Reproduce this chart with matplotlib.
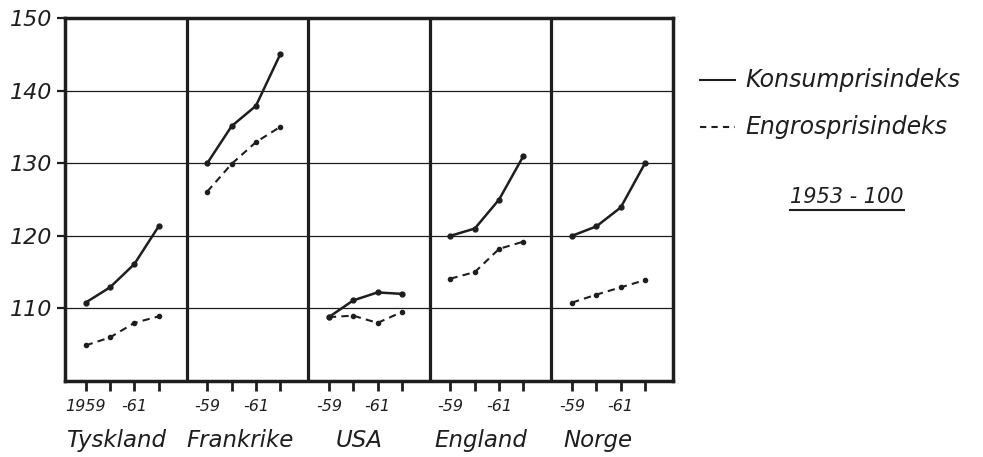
import matplotlib
matplotlib.use("Agg")
import matplotlib.pyplot as plt
from matplotlib.lines import Line2D

countries = ["Tyskland", "Frankrike", "USA", "England", "Norge"]
years = [1959, 1960, 1961, 1962]
konsum = [
    [110.8, 112.9, 116.1, 121.3],
    [130.0, 135.1, 137.9, 145.0],
    [108.8, 111.1, 112.2, 112.0],
    [120.0, 121.0, 125.0, 131.0],
    [120.0, 121.3, 123.9, 130.0],
]
engros = [
    [104.9, 106.0, 108.0, 108.9],
    [126.1, 129.9, 132.9, 135.0],
    [108.8, 109.0, 108.0, 109.5],
    [114.1, 115.0, 118.2, 119.2],
    [110.8, 111.9, 112.9, 113.9],
]
first_labels = ["1959", "", "-61", ""]
other_labels = ["-59", "", "-61", ""]
y_ticks = [110, 120, 130, 140, 150]

ink = "#1e1e1e"
plt.rcParams["font.family"] = "DejaVu Sans"
plt.rcParams["font.style"] = "italic"

fig = plt.figure(figsize=(9.83, 4.57), dpi=100)
ax = fig.add_axes([65 / 983, 1 - 381 / 457, 608 / 983, 363 / 457])

panel_w = 5
offset = 0.85
name_x = [2.1, 2.2, 2.1, 2.1, 1.9]
xticks = []
xlabels = []
for p, name in enumerate(countries):
    xs = [p * panel_w + offset + i for i in range(len(years))]
    ax.plot(xs, konsum[p], color=ink, lw=1.8, marker="o", ms=3.5)
    ax.plot(xs, engros[p], color=ink, lw=1.5, ls=(0, (3.5, 2.5)), marker="o", ms=3)
    xticks += xs
    xlabels += first_labels if p == 0 else other_labels
    ax.text(p * panel_w + name_x[p], -0.165, name, transform=ax.get_xaxis_transform(),
            ha="center", va="center", fontsize=16.5, color=ink)
    if p > 0:
        ax.axvline(p * panel_w, color=ink, lw=2.3)

for y in y_ticks[:-1]:
    ax.axhline(y, color=ink, lw=0.9)

ax.set_xlim(0, panel_w * len(countries))
ax.set_ylim(100, 150)
ax.set_yticks(y_ticks)
ax.set_yticklabels([str(v) for v in y_ticks], fontsize=16, color=ink)
ax.set_xticks(xticks)
ax.set_xticklabels(xlabels, fontsize=11.5, color=ink)
ax.tick_params(axis="y", direction="out", length=6, width=1.6, pad=3, color=ink)
ax.tick_params(axis="x", direction="out", length=7, width=2, pad=6, color=ink)
for s in ax.spines.values():
    s.set_linewidth(2.5)
    s.set_color(ink)

# legend at right
fig.add_artist(Line2D([700 / 983, 735 / 983], [0.825, 0.825], transform=fig.transFigure,
                      color=ink, lw=1.5))
fig.add_artist(Line2D([700 / 983, 735 / 983], [0.722, 0.722], transform=fig.transFigure,
                      color=ink, lw=1.5, ls=(0, (3, 2.5))))
fig.text(745 / 983, 0.825, "Konsumprisindeks", fontsize=17, va="center", ha="left", color=ink)
fig.text(745 / 983, 0.722, "Engrosprisindeks", fontsize=17, va="center", ha="left", color=ink)
fig.text(847 / 983, 0.569, "1953 - 100", fontsize=15, va="center", ha="center", color=ink)
fig.add_artist(Line2D([790 / 983, 904 / 983], [0.54, 0.54], transform=fig.transFigure,
                      color=ink, lw=1.5))

fig.savefig("out.png", dpi=100)
